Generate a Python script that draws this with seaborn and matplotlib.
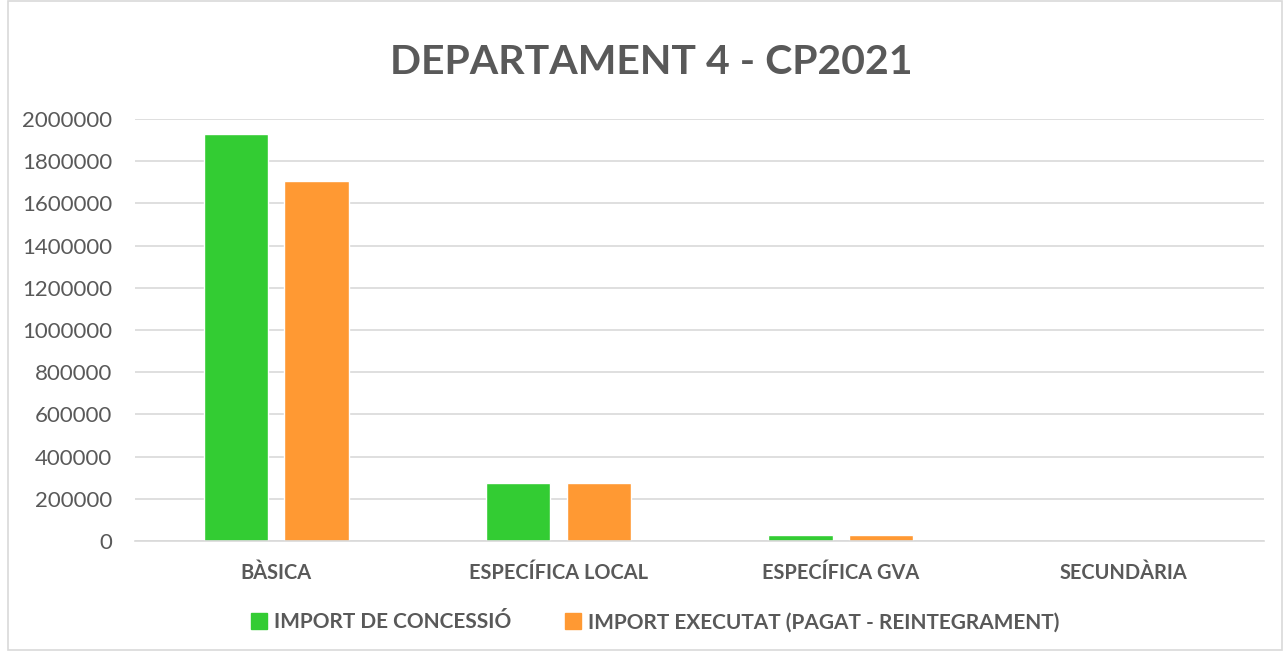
import matplotlib
matplotlib.use("Agg")
import matplotlib.pyplot as plt
import matplotlib.patches as mpatches
import pandas as pd
import seaborn as sns

categories = ["BÀSICA", "ESPECÍFICA LOCAL", "ESPECÍFICA GVA", "SECUNDÀRIA"]
series = ["IMPORT DE CONCESSIÓ", "IMPORT EXECUTAT (PAGAT - REINTEGRAMENT)"]
concessio = [1929000, 275000, 29000, 0]
executat = [1706000, 275000, 29000, 0]
yticks = [0, 200000, 400000, 600000, 800000, 1000000, 1200000, 1400000, 1600000, 1800000, 2000000]

df = pd.DataFrame({
    "categoria": categories * 2,
    "serie": [series[0]] * 4 + [series[1]] * 4,
    "import": concessio + executat,
})

sns.set_theme(style="white")
plt.rcParams["font.family"] = ["Lato", "DejaVu Sans"]
txt = "#595959"
grid = "#d9d9d9"

fig = plt.figure(figsize=(12.85, 6.53), dpi=100)
ax = fig.add_axes([0.105, 0.1715, 0.879, 0.6463])

sns.barplot(data=df, x="categoria", y="import", hue="serie",
            palette=["#33cc33", "#ff9933"], width=0.57, gap=0.2,
            saturation=1, ax=ax, legend=False)

ax.set_ylim(0, 2000000)
ax.set_xlim(-0.5, 3.5)
ax.set_yticks(yticks)
ax.set_yticklabels([str(v) for v in yticks], fontsize=16, color=txt)
ax.set_xticks(range(len(categories)))
ax.set_xticklabels(categories, fontsize=14.4, fontweight="bold", color=txt)
ax.tick_params(axis="both", length=0)
ax.tick_params(axis="y", pad=16.5)
ax.tick_params(axis="x", pad=16)
ax.yaxis.grid(True, color=grid, linewidth=1.2)
ax.set_axisbelow(True)
for s in ["top", "right", "left"]:
    ax.spines[s].set_visible(False)
ax.spines["bottom"].set_color(grid)
ax.spines["bottom"].set_linewidth(1.2)
ax.set_xlabel("")
ax.set_ylabel("")

fig.text(0.507, 0.905, "DEPARTAMENT 4 - CP2021", ha="center", va="center",
         fontsize=29.5, fontweight="bold", color=txt)

handles = [mpatches.Patch(color=c) for c in ["#33cc33", "#ff9933"]]
fig.legend(handles, series, loc="center", bbox_to_anchor=(0.51, 0.047), ncol=2,
           frameon=False, handlelength=0.75, handleheight=0.75, handletextpad=0.35,
           columnspacing=2.6, prop={"size": 15, "weight": "bold"}, labelcolor=txt)

fig.add_artist(mpatches.Rectangle((0.006, 0.004), 0.992, 0.994, transform=fig.transFigure,
                                  fill=False, edgecolor=grid, linewidth=1.2))

fig.savefig("out.png", dpi=100)
